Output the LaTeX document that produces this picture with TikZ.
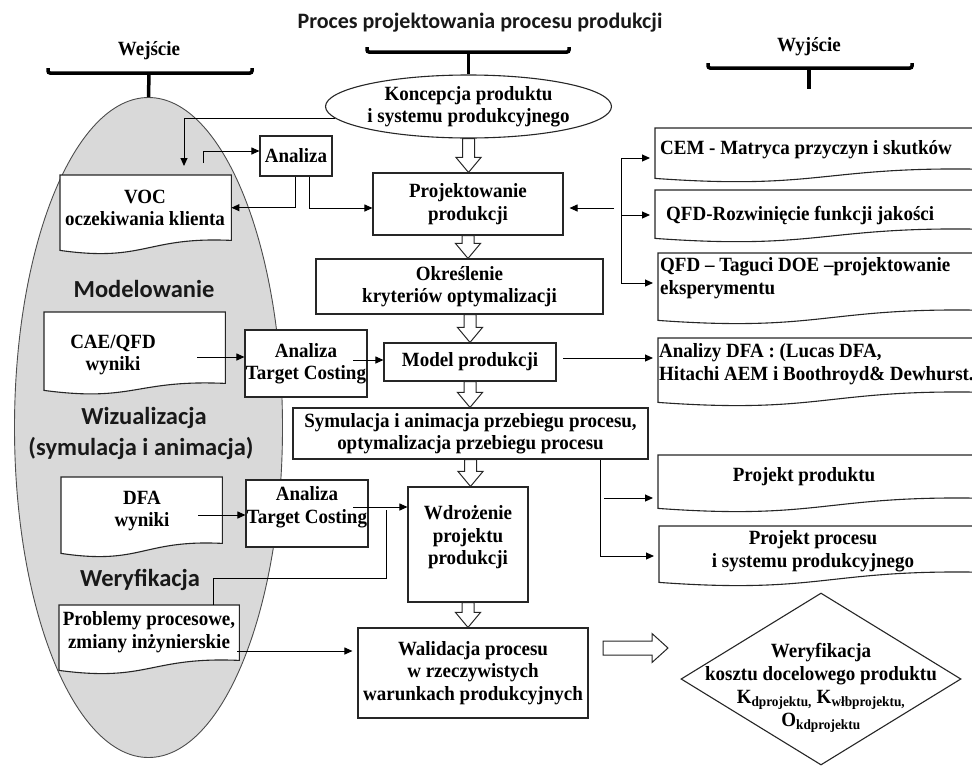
\documentclass[tikz,border=0pt]{standalone}
\usepackage{fontspec}
\setmainfont{Liberation Serif}[FakeStretch=0.94]
\newfontfamily\calsans{Carlito}
\usetikzlibrary{shapes.geometric,arrows.meta,calc}
\definecolor{ellfill}{HTML}{D9D9D9}
\definecolor{ellline}{HTML}{4D4D4D}
\definecolor{boxline}{HTML}{262626}

\newcommand\docnode[6]{%
 \node[inner sep=0pt, minimum width=#4-#2, minimum height=#5-#3, anchor=north west] (#1) at (#2,#3) {};
 \draw[doc] (#1.south west) -- (#1.north west) -- (#1.north east) -- (#1.south east)
   .. controls ($(#1.south)+(0,-4)$) and ($(#1.south)+(0,#6+12)$) .. ($(#1.south west)+(0,#6)$) -- cycle;}

\newcommand\hdown[3]{%
 \draw[hol] let \p1=(#1), \p2=(#2.south), \p3=(#3.north) in
 (\x1-6pt,\y2) -- (\x1+6pt,\y2) -- (\x1+6pt,\y3+15pt) -- (\x1+12.5pt,\y3+15pt) -- (\x1,\y3)
 -- (\x1-12.5pt,\y3+15pt) -- (\x1-6pt,\y3+15pt) -- cycle;}

\newcommand\hright[2]{%
 \draw[hol] let \p1=(#1), \p2=(#2) in
 (\x1,\y1+7pt) -- (\x2-16pt,\y1+7pt) -- (\x2-16pt,\y1+14.5pt) -- (\x2,\y1)
 -- (\x2-16pt,\y1-14.5pt) -- (\x2-16pt,\y1-7pt) -- (\x1,\y1-7pt) -- cycle;}

\begin{document}
\begin{tikzpicture}[x=1pt,y=-1pt,
 txt/.style={font=\fontsize{20.2}{22.5}\selectfont\bfseries, align=center, inner sep=0pt, text=black},
 txtl/.style={txt, align=left, anchor=west},
 box/.style={txt, draw=boxline, line width=1.1pt, fill=white},
 doc/.style={draw=boxline, line width=1.1pt, fill=white},
 hol/.style={draw=boxline, line width=1pt, fill=white},
 arr/.style={draw=black, line width=1pt, -{Triangle[length=8pt,width=7pt]}},
 arrg/.style={arr, shorten >=5pt},
 ln/.style={draw=black, line width=1pt},
 brk/.style={draw=black, line width=3.5pt, rounded corners=2pt},
 sans/.style={font=\calsans\fontsize{24.5}{28}\selectfont\bfseries, inner sep=0pt, text=black!90}]

\useasboundingbox (0,0) rectangle (972,766);
\begin{scope}
\clip (0,0) rectangle (972,766);

% big grey ellipse
\node[ellipse, draw=ellline, fill=ellfill, line width=0.9pt, minimum width=268, minimum height=660, inner sep=0pt] (bigell) at (148.5,427.5) {};

% titles and brackets
\node[font=\calsans\fontsize{22}{26}\selectfont\bfseries, inner sep=0pt, text=black!90] (title) at (480,23) {Proces projektowania procesu produkcji};
\node[txt] (wej) at (149,51) {Wejście};
\node[txt] (wyj) at (809,47) {Wyjście};
\draw[brk] (48,68) -- (48,73) -- (252,73) -- (252,68);
\draw[brk] (367,47) -- (367,52) -- (569,52) -- (569,47);
\draw[brk] (708,63) -- (708,68) -- (912,68) -- (912,63);
\coordinate (wejS) at (149,73);
\coordinate (cenS) at (468.5,52);
\coordinate (wyjS) at (809,68);
\coordinate (wyjE) at (809,89);

% section labels
\node[sans] (modl) at (144,289) {Modelowanie};
\node[sans] (wiz) at (144,418) {Wizualizacja};
\node[sans] (wiz2) at (141,448) {(symulacja i animacja)};
\node[sans] (wer) at (140,580) {Weryfikacja};

% left document shapes
\docnode{voc}{60}{175}{231}{240}{10}
\node[txt] (vocT) at (145,208) {VOC\\oczekiwania klienta};
\docnode{cae}{44}{312}{225}{383}{7}
\node[txt] (caeT) at (113,355) {CAE/QFD\\wyniki};
\docnode{dfa}{61}{477}{222}{543}{10}
\node[txt] (dfaT) at (142,511) {DFA\\wyniki};
\docnode{prob}{59}{605}{239}{660}{10}
\node[txt] (probT) at (149,632) {Problemy procesowe,\\zmiany inżynierskie};

% right document shapes
\docnode{cem}{655}{128}{990}{169}{9}
\node[txtl] (cemT) at (660,150) {CEM - Matryca przyczyn i skutków};
\docnode{qfd}{655}{190}{990}{229}{9}
\node[txtl] (qfdT) at (666,216) {QFD-Rozwinięcie funkcji jakości};
\docnode{tag}{658}{253}{990}{310}{10}
\node[txtl] (tagT) at (660,278) {QFD – Taguci DOE –projektowanie\\eksperymentu};
\docnode{dfaA}{658}{338}{990}{392}{10}
\node[txtl] (dfaAT) at (659,364) {Analizy DFA : (Lucas DFA,\\Hitachi AEM i Boothroyd\& Dewhurst.};
\docnode{pprod}{658}{455}{990}{498}{10}
\node[txt] (pprodT) at (804,477) {Projekt produktu};
\docnode{pproc}{659}{526}{990}{572}{10}
\node[txt] (pprocT) at (813,551) {Projekt procesu\\i systemu produkcyjnego};

% central column
\node[txt, ellipse, draw=boxline, line width=1.1pt, fill=white, minimum width=269, minimum height=63] (konc) at (468.5,106.5) {Koncepcja produktu\\i systemu produkcyjnego};
\node[box, minimum width=72, minimum height=40] (anal) at (296,156) {Analiza};
\node[box, minimum width=190, minimum height=62] (proj) at (468,204) {Projektowanie\\produkcji};
\node[box, minimum width=287, minimum height=55] (okr) at (459.5,286.5) {Określenie\\kryteriów optymalizacji};
\node[box, minimum width=172, minimum height=38] (model) at (470,362) {Model produkcji};
\node[box, minimum width=355, minimum height=51] (sym) at (470.5,433.5) {Symulacja i animacja przebiegu procesu,\\optymalizacja przebiegu procesu};
\node[box, minimum width=120, minimum height=115] (wdr) at (468,544.5) {};
\node[txt] (wdrT) at (468,537.5) {Wdrożenie\\projektu\\produkcji};
\node[box, minimum width=230, minimum height=90] (wal) at (473,673) {Walidacja procesu\\w rzeczywistych\\warunkach produkcyjnych};
\node[box, minimum width=122, minimum height=67] (tc1) at (306,363.5) {Analiza\\Target Costing};
\node[box, minimum width=122, minimum height=67] (tc2) at (307,513.5) {};
\node[txt] (tc2T) at (307,507) {Analiza\\Target Costing};

% diamond
\node[diamond, draw=boxline, line width=1.1pt, fill=white, minimum width=280, minimum height=172, inner sep=0pt] (dia) at (821,679) {};
\node[txt, font=\fontsize{20.2}{23}\selectfont\bfseries] (diaT) at (821,688) {Weryfikacja\\kosztu docelowego produktu\\K\textsubscript{dprojektu,} K\textsubscript{włbprojektu,}\\O\textsubscript{kdprojektu}};

% bracket stems
\draw[brk] (wejS) -- (bigell.north);
\draw[brk] (cenS) -- (konc.north);
\draw[brk] (wyjS) -- (wyjE);

% hollow arrows
\hdown{konc.south}{konc}{proj}
\hdown{proj.south}{proj}{okr}
\hdown{model.north}{okr}{model}
\hdown{model.south}{model}{sym}
\hdown{sym.south}{sym}{wdr}
\hdown{wdr.south}{wdr}{wal}
\coordinate (hA) at (603,648);
\coordinate (hB) at (668,648);
\hright{hA}{hB}

% connectors top left
\coordinate (vocIn) at (184,166);
\draw[arr] (konc.185) -| (vocIn);
\coordinate (vocOut) at (203,163);
\draw[arr] (vocOut) |- ([yshift=5pt]anal.west);
\draw[arr] ([xshift=36pt]anal.south west) |- (voc.east);
\draw[arr] ([xshift=50pt]anal.south west) |- ([yshift=-4pt]proj.west);

% right group
\coordinate (rvTop) at (621,158);
\coordinate (rvMid) at (621,215);
\coordinate (rvBot) at (621,283);
\coordinate (rj) at (614,208);
\draw[ln] (rvTop) -- (rvBot);
\draw[arrg] (rvTop) -- (rvTop -| cem.west);
\draw[arrg] (rvMid) -- (rvMid -| qfd.west);
\draw[arrg] (rvBot) -- (rvBot -| tag.west);
\draw[arr] (rj) -- ([xshift=6pt,yshift=-4pt]proj.east);

\coordinate (mO) at (563,358);
\draw[arrg] (mO) -- (mO -| dfaA.west);

\coordinate (sV) at (600,556);
\coordinate (sM) at (604,498);
\draw[ln] (sym.south -| sV) -- (sV);
\draw[arrg] (sV) -- (sV -| pproc.west);
\draw[arrg] (sM) -- (sM -| pprod.west);

% left side connectors
\coordinate (caeO) at (197,357);
\draw[arr] (caeO) -- (caeO -| tc1.west);
\coordinate (tc1O) at (353,360);
\draw[arr] (tc1O) -- (tc1O -| model.west);
\coordinate (dfaO) at (198,515);
\draw[arr] (dfaO) -- (dfaO -| tc2.west);
\coordinate (tc2O) at (353,507);
\draw[arr] (tc2O) -- (tc2O -| wdr.west);
\coordinate (pj) at (386,510);
\coordinate (pjB) at (386,578);
\draw[ln] ([xshift=64pt]prob.north) |- (pjB) -- (pj);
\coordinate (probO) at (237,651);
\draw[arrg] (probO) -- (probO -| wal.west);

\end{scope}
\end{tikzpicture}
\end{document}
